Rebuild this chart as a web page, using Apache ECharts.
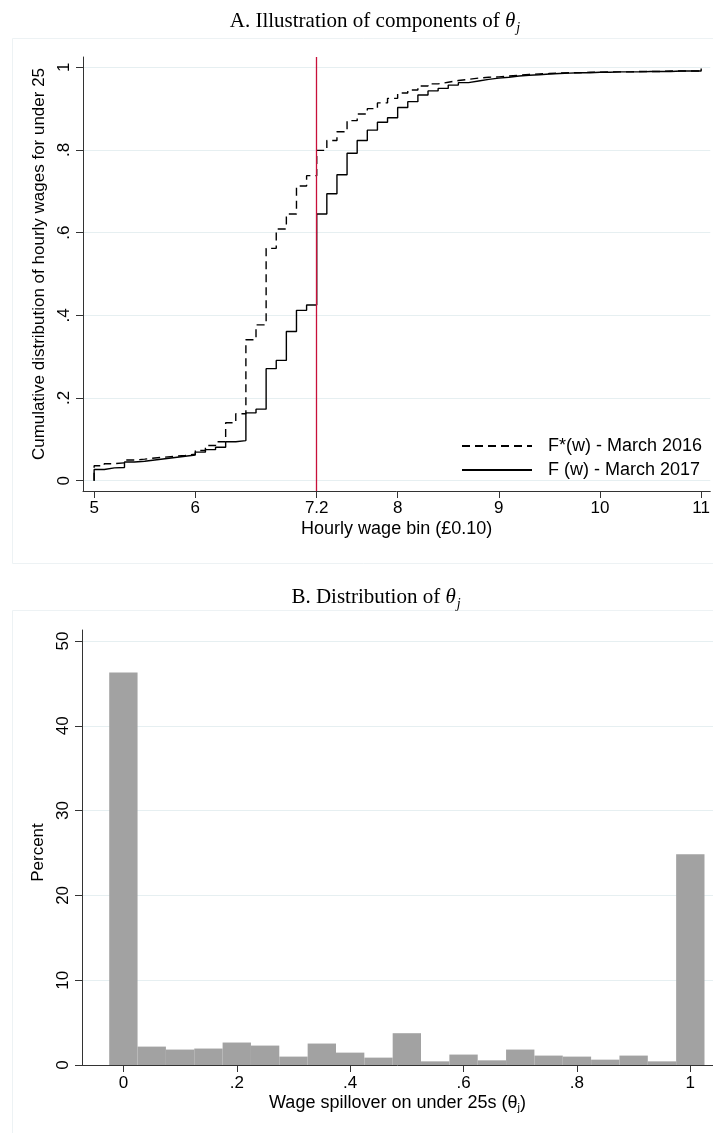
<!DOCTYPE html>
<html><head><meta charset="utf-8">
<script src="https://cdn.jsdelivr.net/npm/echarts@6/dist/echarts.min.js"></script>
<style>html,body{margin:0;padding:0;background:#fff}#c{width:713px;height:1133px}</style>
</head><body><div id="c"></div>
<script>
// ---------- Panel A data ----------
const wageBins = [5.0,5.1,5.2,5.3,5.4,5.5,5.6,5.7,5.8,5.9,
  6.0,6.1,6.2,6.3,6.4,6.5,6.6,6.7,6.8,6.9,
  7.0,7.1,7.2,7.3,7.4,7.5,7.6,7.7,7.8,7.9,
  8.0,8.1,8.2,8.3,8.4,8.5,8.6,8.7,8.8,8.9,
  9.0,9.1,9.2,9.3,9.4,9.5,9.6,9.7,9.8,9.9,
  10.0,10.1,10.2,10.3,10.4,10.5,10.6,10.7,10.8,10.9,11.0];
const cdfMarch2016 = [0.036,0.041,0.043,0.050,0.052,0.055,0.057,0.059,0.061,0.064,
  0.073,0.085,0.094,0.140,0.162,0.341,0.377,0.562,0.609,0.645,
  0.713,0.738,0.799,0.823,0.844,0.871,0.887,0.900,0.914,0.925,
  0.938,0.945,0.955,0.960,0.964,0.968,0.971,0.974,0.976,0.977,
  0.979,0.981,0.983,0.984,0.985,0.986,0.987,0.987,0.988,0.988,
  0.989,0.989,0.989,0.990,0.990,0.990,0.991,0.991,0.991,0.991,0.997];
const cdfMarch2017 = [0.027,0.031,0.032,0.045,0.047,0.050,0.053,0.056,0.059,0.062,
  0.069,0.075,0.081,0.094,0.097,0.164,0.173,0.271,0.291,0.361,
  0.412,0.425,0.645,0.694,0.740,0.792,0.823,0.848,0.867,0.878,
  0.903,0.917,0.933,0.943,0.949,0.957,0.963,0.967,0.971,0.974,
  0.976,0.979,0.981,0.982,0.984,0.985,0.986,0.987,0.987,0.988,
  0.988,0.989,0.989,0.989,0.990,0.990,0.990,0.991,0.991,0.991,0.997];
const cdfStart = 0;
const newMinimumWage = 7.2;
const xTicksA = [5, 6, 7.2, 8, 9, 10, 11];
const yTicksA = [0, 0.2, 0.4, 0.6, 0.8, 1];
const seriesNames = ['F*(w) - March 2016', 'F (w) - March 2017'];

// ---------- Panel B data ----------
const thetaBins = [0,0.05,0.10,0.15,0.20,0.25,0.30,0.35,0.40,0.45,0.50,
  0.55,0.60,0.65,0.70,0.75,0.80,0.85,0.90,0.95,1.00];
const thetaPercent = [46.3,2.17,1.82,1.94,2.65,2.29,0.99,2.53,1.46,0.87,3.75,
  0.43,1.23,0.55,1.82,1.11,0.99,0.63,1.11,0.43,24.85];
const thetaBinWidth = 0.05;
const xTicksB = [0, 0.2, 0.4, 0.6, 0.8, 1];
const yTicksB = [0, 10, 20, 30, 40, 50];

// ---------- helpers ----------
const SANS = 'Liberation Sans, Arial, sans-serif';
const SERIF = 'Liberation Serif, DejaVu Serif, serif';
const GRID_COLOR = '#e6eff1';
const AXIS_COLOR = '#333';
const decimalFmt = v => (v === 0 ? '0' : v === 1 ? '1' : String(+v.toFixed(2)).replace(/^0\./, '.'));

function stepData(xs, ys) {
  const d = [[xs[0], cdfStart]];
  xs.forEach((x, i) => d.push([x, ys[i]]));
  return d;
}

const titleRich = {
  a: {fontFamily: SERIF, fontSize: 21, fontWeight: 'normal', color: '#000'},
  t: {fontFamily: SERIF, fontSize: 21, fontWeight: 'normal', fontStyle: 'italic', color: '#000'},
  s: {fontFamily: SERIF, fontSize: 14, fontWeight: 'normal', fontStyle: 'italic', color: '#000', padding: [13, 0, 0, 1]}
};

const chart = echarts.init(document.getElementById('c'), null, {renderer: 'canvas'});
chart.setOption({
  animation: false,
  backgroundColor: '#fff',
  graphic: [
    {type: 'rect', silent: true, z: -10, shape: {x: 12.5, y: 38.5, width: 720, height: 525}, style: {fill: 'none', stroke: '#edf2f4', lineWidth: 1}},
    {type: 'rect', silent: true, z: -10, shape: {x: 12.5, y: 610.5, width: 720, height: 540}, style: {fill: 'none', stroke: '#edf2f4', lineWidth: 1}}
  ],
  title: [
    {text: '{a|A. Illustration of components of }{t|θ}{s|j}', left: 370, top: 3, textAlign: 'center',
     textStyle: {fontWeight: 'normal', rich: titleRich}},
    {text: '{a|B. Distribution of }{t|θ}{s|j}', left: 371, top: 579, textAlign: 'center',
     textStyle: {fontWeight: 'normal', rich: titleRich}}
  ],
  legend: {
    orient: 'vertical', left: 456, top: 432, itemWidth: 70, itemHeight: 14, itemGap: 6,
    data: seriesNames,
    itemStyle: {opacity: 0},
    textStyle: {fontFamily: SANS, fontSize: 18, color: '#000', padding: [0, 0, 0, 11]}
  },
  grid: [
    {left: 83, top: 57, width: 630, height: 434},
    {left: 82, top: 630, width: 631, height: 435}
  ],
  xAxis: [
    {type: 'value', gridIndex: 0, min: 4.89, max: 11.09,
     name: 'Hourly wage bin (£0.10)', nameLocation: 'middle', nameGap: 29,
     nameTextStyle: {fontFamily: SANS, fontSize: 18, color: '#000'},
     axisLine: {show: true, onZero: false, lineStyle: {color: AXIS_COLOR, width: 1}},
     axisTick: {show: true, length: 7, customValues: xTicksA, lineStyle: {color: AXIS_COLOR}},
     axisLabel: {customValues: xTicksA, margin: 9, fontFamily: SANS, fontSize: 17, color: '#000',
       formatter: v => String(v)},
     splitLine: {show: false}},
    {type: 'value', gridIndex: 1, min: -0.073, max: 1.04,
     name: '{a|Wage spillover on under 25s (θ}{s|j}{a|)}', nameLocation: 'middle', nameGap: 29,
     nameTextStyle: {fontFamily: SANS, fontSize: 18, color: '#000', rich: {
       a: {fontFamily: SANS, fontSize: 18, color: '#000'},
       s: {fontFamily: SANS, fontSize: 11, color: '#000', padding: [8, 0, 0, 0]}}},
     axisLine: {show: true, onZero: false, lineStyle: {color: AXIS_COLOR, width: 1}},
     axisTick: {show: true, length: 7, customValues: xTicksB, lineStyle: {color: AXIS_COLOR}},
     axisLabel: {customValues: xTicksB, margin: 10, fontFamily: SANS, fontSize: 17, color: '#000',
       formatter: decimalFmt},
     splitLine: {show: false}}
  ],
  yAxis: [
    {type: 'value', gridIndex: 0, min: -0.025, max: 1.025,
     name: 'Cumulative distribution of hourly wages for under 25', nameLocation: 'middle', nameGap: 34,
     nameTextStyle: {fontFamily: SANS, fontSize: 17, color: '#000', padding: [0, 0, 0, 20]},
     axisLine: {show: true, onZero: false, lineStyle: {color: AXIS_COLOR, width: 1}},
     axisTick: {show: true, length: 7, customValues: yTicksA, lineStyle: {color: AXIS_COLOR}},
     axisLabel: {customValues: yTicksA, rotate: 90, margin: 10, fontFamily: SANS, fontSize: 17, color: '#000',
       formatter: decimalFmt},
     splitLine: {show: true, lineStyle: {color: GRID_COLOR, width: 1.2}}},
    {type: 'value', gridIndex: 1, min: 0, max: 51.3,
     name: 'Percent', nameLocation: 'middle', nameGap: 34,
     nameTextStyle: {fontFamily: SANS, fontSize: 17, color: '#000', padding: [0, 10, 0, 0]},
     axisLine: {show: true, onZero: false, lineStyle: {color: AXIS_COLOR, width: 1}},
     axisTick: {show: true, length: 7, customValues: yTicksB, lineStyle: {color: AXIS_COLOR}},
     axisLabel: {customValues: yTicksB, rotate: 90, margin: 10, fontFamily: SANS, fontSize: 17, color: '#000'},
     splitLine: {show: true, lineStyle: {color: GRID_COLOR, width: 1.2}}}
  ],
  series: [
    {name: 'minimum wage', type: 'line', xAxisIndex: 0, yAxisIndex: 0, data: [], z: 1,
     markLine: {silent: true, symbol: 'none', label: {show: false},
       lineStyle: {color: '#c8103a', width: 1.3, type: 'solid'},
       emphasis: {disabled: true},
       data: [{xAxis: newMinimumWage}]}},
    {name: seriesNames[0], type: 'line', xAxisIndex: 0, yAxisIndex: 0, step: 'end', symbol: 'none',
     data: stepData(wageBins, cdfMarch2016),
     lineStyle: {color: '#000', width: 1.4, type: [8, 5]}, itemStyle: {color: '#000'}, z: 3},
    {name: seriesNames[1], type: 'line', xAxisIndex: 0, yAxisIndex: 0, step: 'end', symbol: 'none',
     data: stepData(wageBins, cdfMarch2017),
     lineStyle: {color: '#000', width: 1.4, type: 'solid'}, itemStyle: {color: '#000'}, z: 3},
    {name: 'theta', type: 'custom', xAxisIndex: 1, yAxisIndex: 1,
     data: thetaBins.map((x, i) => [x, thetaPercent[i]]),
     encode: {x: 0, y: 1},
     renderItem: (params, api) => {
       const x = api.value(0), y = api.value(1);
       const p0 = api.coord([x - thetaBinWidth / 2, y]);
       const p1 = api.coord([x + thetaBinWidth / 2, 0]);
       return {type: 'rect', shape: {x: p0[0], y: p0[1], width: p1[0] - p0[0], height: p1[1] - p0[1]},
               style: {fill: '#a2a2a2'}};
     }}
  ]
});
</script>
</body></html>
